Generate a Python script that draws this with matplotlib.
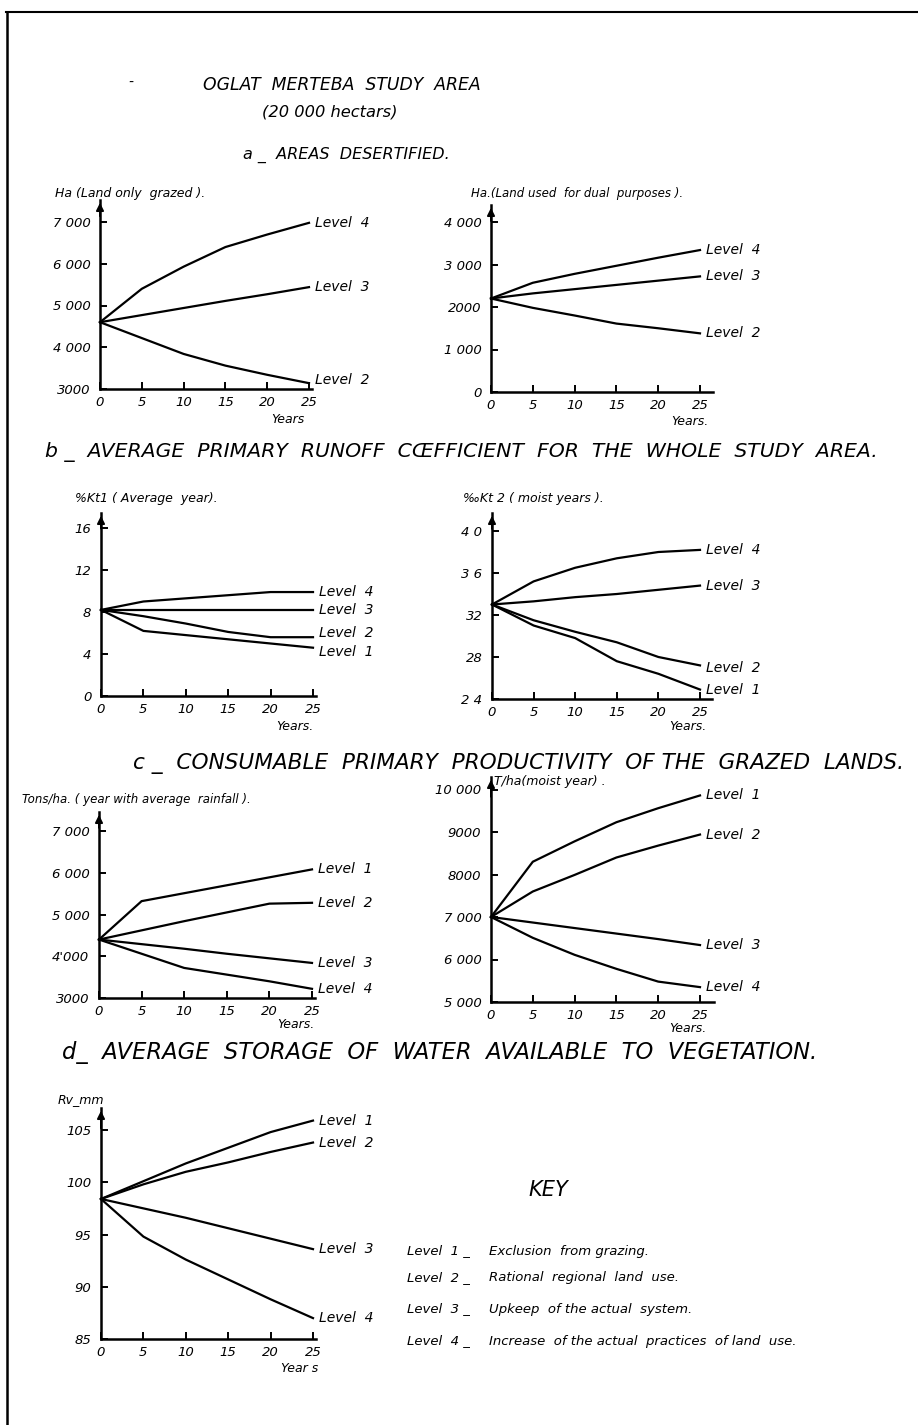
import matplotlib
matplotlib.use('Agg')
import matplotlib.pyplot as plt
from matplotlib.lines import Line2D

plt.rcParams['font.family'] = ['DejaVu Sans']
plt.rcParams['font.style'] = 'italic'

W, H = 918, 1425

# ---- data ----
years = [0, 5, 10, 15, 20, 25]
x_ticklabels = ['0', '5', '10', '15', '20', '25']

# a - areas desertified (ha)
grazed_l4 = [4600, 5400, 5930, 6400, 6700, 6980]
grazed_l3 = [4600, 4770, 4940, 5110, 5270, 5440]
grazed_l2 = [4600, 4220, 3840, 3560, 3340, 3140]
grazed_yticks = [3000, 4000, 5000, 6000, 7000]
grazed_ylabels = ['3000', '4 000', '5 000', '6 000', '7 000']

dual_l4 = [2200, 2570, 2780, 2970, 3160, 3340]
dual_l3 = [2200, 2320, 2420, 2520, 2620, 2720]
dual_l2 = [2200, 1980, 1800, 1610, 1500, 1380]
dual_yticks = [0, 1000, 2000, 3000, 4000]
dual_ylabels = ['0', '1 000', '2000', '3 000', '4 000']

# b - runoff coefficient
kt1_l4 = [8.2, 9.0, 9.3, 9.6, 9.9, 9.9]
kt1_l3 = [8.2, 8.2, 8.2, 8.2, 8.2, 8.2]
kt1_l2 = [8.2, 7.6, 6.9, 6.1, 5.6, 5.6]
kt1_l1 = [8.2, 6.2, 5.8, 5.4, 5.0, 4.6]
kt1_yticks = [0, 4, 8, 12, 16]
kt1_ylabels = ['0', '4', '8', '12', '16']

kt2_l4 = [33.0, 35.2, 36.5, 37.4, 38.0, 38.2]
kt2_l3 = [33.0, 33.3, 33.7, 34.0, 34.4, 34.8]
kt2_l2 = [33.0, 31.5, 30.4, 29.4, 28.0, 27.2]
kt2_l1 = [33.0, 31.0, 29.8, 27.6, 26.4, 24.9]
kt2_yticks = [24, 28, 32, 36, 40]
kt2_ylabels = ['2 4', '28', '32', '3 6', '4 0']

# c - consumable primary productivity
avg_l1 = [4400, 5320, 5510, 5700, 5890, 6080]
avg_l2 = [4400, 4620, 4840, 5050, 5260, 5280]
avg_l3 = [4400, 4290, 4180, 4060, 3950, 3840]
avg_l4 = [4400, 4060, 3720, 3560, 3400, 3220]
avg_yticks = [3000, 4000, 5000, 6000, 7000]
avg_ylabels = ['3000', "4'000", '5 000', '6 000', '7 000']

moist_l1 = [7000, 8300, 8780, 9230, 9560, 9860]
moist_l2 = [7000, 7600, 7990, 8400, 8680, 8940]
moist_l3 = [7000, 6870, 6740, 6610, 6480, 6340]
moist_l4 = [7000, 6510, 6110, 5780, 5480, 5350]
moist_yticks = [5000, 6000, 7000, 8000, 9000, 10000]
moist_ylabels = ['5 000', '6 000', '7 000', '8000', '9000', '10 000']

# d - water storage
rv_l1 = [98.4, 100.1, 101.8, 103.3, 104.8, 105.9]
rv_l2 = [98.4, 99.8, 101.0, 101.9, 102.9, 103.8]
rv_l3 = [98.4, 97.5, 96.6, 95.6, 94.6, 93.6]
rv_l4 = [98.4, 94.8, 92.6, 90.7, 88.8, 87.0]
rv_yticks = [85, 90, 95, 100, 105]
rv_ylabels = ['85', '90', '95', '100', '105']

key_levels = ['Level  1 _', 'Level  2 _', 'Level  3 _', 'Level  4 _']
key_text = ['Exclusion  from grazing.',
            'Rational  regional  land  use.',
            'Upkeep  of the actual  system.',
            'Increase  of the actual  practices  of land  use.']

fig = plt.figure(figsize=(W / 100, H / 100), dpi=100)


def ptext(x, y, s, size, ha='left', **kw):
    return fig.text(x / W, 1 - y / H, s, fontsize=size, ha=ha, va='center', **kw)


def heading(s, x0, x1, y, size):
    t = ptext(x0, y, s, size)
    w = t.get_window_extent(fig.canvas.get_renderer()).width
    t.set_fontsize(size * (x1 - x0) / w)
    return t


def panel(x0, x25, ybot, ytop, ymin, ytick_px, ytick_val, xmax, yticks, ylabels):
    ppy = (x25 - x0) / 25.0
    ppu = (ybot - ytick_px) / float(ytick_val - ymin)
    ymax = ymin + (ybot - ytop) / ppu
    ax = fig.add_axes([x0 / W, 1 - ybot / H, xmax * ppy / W, (ybot - ytop) / H])
    ax.set_xlim(0, xmax)
    ax.set_ylim(ymin, ymax)
    for s in ['top', 'right']:
        ax.spines[s].set_visible(False)
    for s in ['left', 'bottom']:
        ax.spines[s].set_linewidth(1.8)
    ax.set_xticks(years)
    ax.set_xticklabels(x_ticklabels)
    ax.set_yticks(yticks)
    ax.set_yticklabels(ylabels)
    ax.tick_params(direction='in', length=5, width=1.4, labelsize=9.5)
    ax.tick_params(axis='y', pad=7)
    ax.tick_params(axis='x', pad=5)
    ax.patch.set_alpha(0)
    ax.annotate('', xy=(0, 1.0), xycoords='axes fraction', xytext=(0, 0.9),
                arrowprops=dict(arrowstyle='-|>', color='k', lw=1.4, mutation_scale=11))
    return ax


def series(ax, vals, name, dy=0):
    ax.plot(years, vals, color='k', lw=1.6, clip_on=False, solid_joinstyle='miter')
    ax.annotate(name, xy=(years[-1], vals[-1]), xytext=(4, dy), textcoords='offset points',
                fontsize=10, va='center', ha='left', annotation_clip=False)


# page border
fig.add_artist(Line2D([6 / W, 1.0], [1 - 12 / H, 1 - 12 / H], transform=fig.transFigure, color='k', lw=1.5))
fig.add_artist(Line2D([7 / W, 7 / W], [1 - 12 / H, 0.0], transform=fig.transFigure, color='k', lw=1.8))

# titles
ptext(128, 83, '-', 10)
heading('OGLAT  MERTEBA  STUDY  AREA', 203, 482, 85, 15)
heading('(20 000 hectars)', 262, 398, 112, 14)
heading('a _  AREAS  DESERTIFIED.', 243, 450, 155, 15)
heading('b _  AVERAGE  PRIMARY  RUNOFF  CŒFFICIENT  FOR  THE  WHOLE  STUDY  AREA.', 45, 880, 452, 15)
heading('c _  CONSUMABLE  PRIMARY  PRODUCTIVITY  OF THE  GRAZED  LANDS.', 133, 905, 763, 15)
heading('d_  AVERAGE  STORAGE  OF  WATER  AVAILABLE  TO  VEGETATION.', 62, 820, 1053, 15)

# a
ax = panel(100, 309, 389, 200, 3000, 222, 7000, 25.3, grazed_yticks, grazed_ylabels)
series(ax, grazed_l4, 'Level  4')
series(ax, grazed_l3, 'Level  3')
series(ax, grazed_l2, 'Level  2', dy=2)
ptext(55, 193, 'Ha (Land only  grazed ).', 9)
ptext(288, 419, 'Years', 9, ha='center')

ax = panel(491, 700, 392, 205, 0, 222, 4000, 26.6, dual_yticks, dual_ylabels)
series(ax, dual_l4, 'Level  4')
series(ax, dual_l3, 'Level  3')
series(ax, dual_l2, 'Level  2')
ptext(471, 193, 'Ha.(Land used  for dual  purposes ).', 8.5)
ptext(690, 422, 'Years.', 9, ha='center')

# b
ax = panel(101, 313, 696, 513, 0, 528, 16, 25.3, kt1_yticks, kt1_ylabels)
series(ax, kt1_l4, 'Level  4')
series(ax, kt1_l3, 'Level  3')
series(ax, kt1_l2, 'Level  2', dy=3)
series(ax, kt1_l1, 'Level  1', dy=-3)
ptext(75, 498, '%Kt1 ( Average  year).', 9)
ptext(295, 726, 'Years.', 9, ha='center')

ax = panel(492, 700, 699, 513, 24, 531, 40, 26.5, kt2_yticks, kt2_ylabels)
series(ax, kt2_l4, 'Level  4')
series(ax, kt2_l3, 'Level  3')
series(ax, kt2_l2, 'Level  2', dy=-2)
series(ax, kt2_l1, 'Level  1')
ptext(463, 498, '‰Kt 2 ( moist years ).', 9)
ptext(688, 726, 'Years.', 9, ha='center')

# c
ax = panel(99, 312, 998, 812, 3000, 831, 7000, 25.3, avg_yticks, avg_ylabels)
series(ax, avg_l1, 'Level  1')
series(ax, avg_l2, 'Level  2')
series(ax, avg_l3, 'Level  3')
series(ax, avg_l4, 'Level  4')
ptext(22, 799, 'Tons/ha. ( year with average  rainfall ).', 8.5)
ptext(296, 1024, 'Years.', 9, ha='center')

ax = panel(491, 700, 1002, 777, 5000, 832, 9000, 26.7, moist_yticks, moist_ylabels)
series(ax, moist_l1, 'Level  1')
series(ax, moist_l2, 'Level  2')
series(ax, moist_l3, 'Level  3')
series(ax, moist_l4, 'Level  4')
ptext(494, 782, 'T/ha(moist year) .', 9)
ptext(688, 1029, 'Years.', 9, ha='center')

# d
ax = panel(101, 313, 1339, 1108, 85, 1130, 105, 25.3, rv_yticks, rv_ylabels)
series(ax, rv_l1, 'Level  1')
series(ax, rv_l2, 'Level  2')
series(ax, rv_l3, 'Level  3')
series(ax, rv_l4, 'Level  4')
ptext(58, 1100, 'Rv_mm', 9)
ptext(300, 1368, 'Year s', 9, ha='center')

# key
ptext(548, 1190, 'KEY', 15, ha='center')
for i, y in enumerate([1251, 1278, 1309, 1341]):
    ptext(407, y, key_levels[i], 9.5)
    ptext(489, y, key_text[i], 9.5)

fig.savefig('out.png', dpi=100)
